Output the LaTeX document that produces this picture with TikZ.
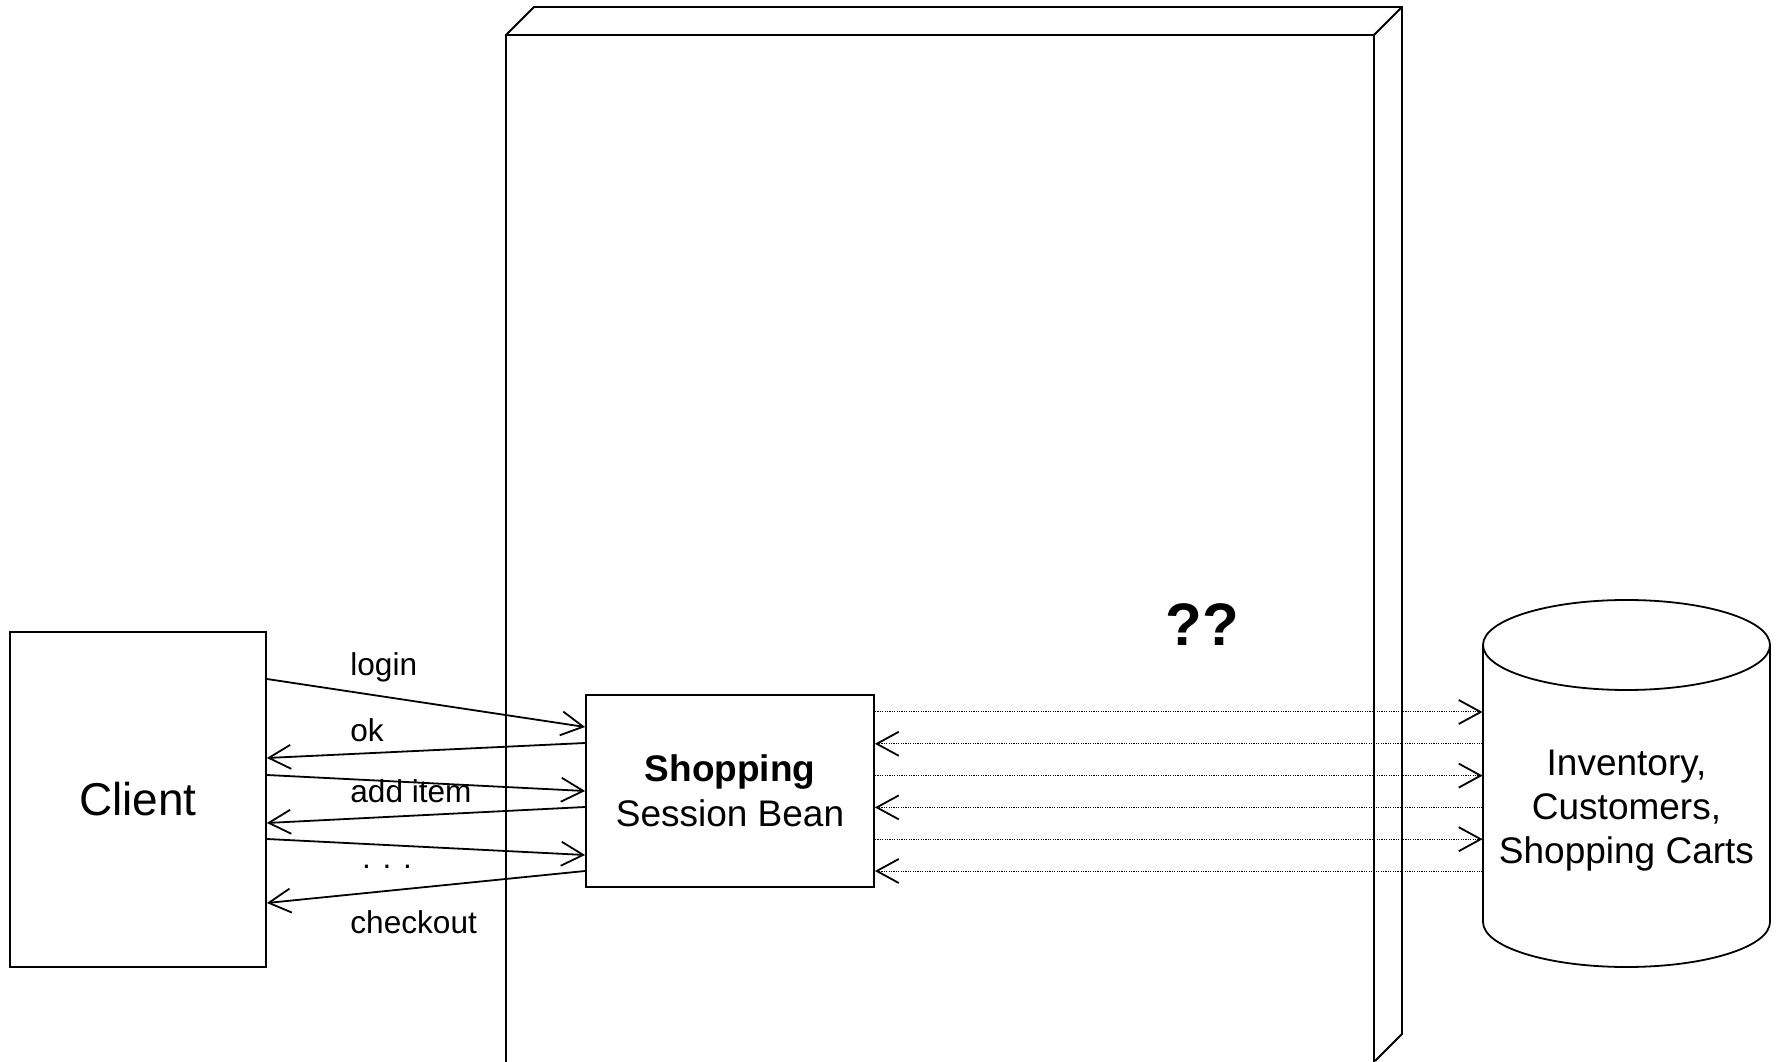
\documentclass[tikz,border=0pt]{standalone}
\usepackage{fontspec}
\setmainfont{Liberation Sans}
\usepackage{tikz}
\usetikzlibrary{arrows.meta,positioning}
\definecolor{figink}{HTML}{000000}

\begin{document}
\begin{tikzpicture}[
    x=0.5pt, y=0.5pt,
    wall/.style={draw=figink, line width=0.9pt, line join=miter},
    box/.style={draw=figink, line width=0.9pt, inner sep=0pt},
    msg/.style={-{Straight Barb[length=11pt, width=12pt, line width=0.9pt]}, figink, line width=0.9pt},
    query/.style={msg, line width=0.5pt, dash pattern=on 0.6pt off 0.6pt},
    lbl/.style={anchor=west, inner sep=0pt, font=\fontsize{15.8}{19}\selectfont},
  ]
  \useasboundingbox (0,0) rectangle (1778,1061);

  % container (slab seen from the front, cut off at the bottom)
  \draw[wall] (506,-10) -- (506,1026) -- (1374,1026) -- (1374,-10);
  \draw[wall] (506,1026) -- (534,1054) -- (1402,1054) -- (1402,27) -- (1375,0);
  \draw[wall] (1374,1026) -- (1402,1054);

  \node[box, minimum width=128pt, minimum height=167.5pt,
    font=\fontsize{23}{27}\selectfont] (client) at (138,261.5) {Client};
  \node[box, minimum width=144pt, minimum height=96pt, align=center,
    font=\fontsize{18.5}{22.5}\selectfont] (bean) at (730,270)
    {\textbf{Shopping}\\Session Bean};

  % database
  \draw[wall] (1483,416) -- (1483,139)
    arc[start angle=180, end angle=360, x radius=143.5, y radius=45] -- (1770,416);
  \draw[wall] (1626.5,416) ellipse [x radius=143.5, y radius=45];
  \node[minimum width=143.5pt, inner sep=0pt, align=center,
    font=\fontsize{18.5}{22}\selectfont] (db) at (1626.5,250.5)
    {Inventory,\\Customers,\\Shopping Carts};

  \node[font=\bfseries\fontsize{30}{36}\selectfont, inner sep=0pt] (unknown) at (1202,436) {??};

  \foreach \yc/\yb in {382/334, 286/270, 222/206}
    \draw[msg] (client.east |- 0,\yc) -- (bean.west |- 0,\yb);
  \foreach \yb/\yc in {318/303, 254/238, 190/158}
    \draw[msg] (bean.west |- 0,\yb) -- (client.east |- 0,\yc);

  \node[lbl] (login) at (350,394) {login};
  \node[lbl] (ok) at (350,331) {ok};
  \node[lbl] (additem) at (350,270) {add item};
  \node[lbl, anchor=center] (more) at (387,194) {. . .};
  \node[lbl] (checkout) at (350,139) {checkout};

  \foreach \k in {0,2,4}{
    \pgfmathsetmacro{\yq}{349-31.8*\k}
    \draw[query] (bean.east |- 0,\yq) -- (db.west |- 0,\yq);
  }
  \foreach \k in {1,3,5}{
    \pgfmathsetmacro{\yq}{349-31.8*\k}
    \draw[query] (db.west |- 0,\yq) -- (bean.east |- 0,\yq);
  }
\end{tikzpicture}
\end{document}
